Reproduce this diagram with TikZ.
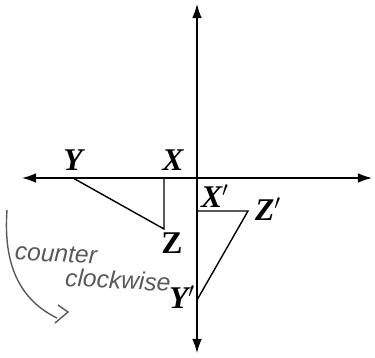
\documentclass[tikz,border=0pt]{standalone}
\usepackage{fontspec}
\setmainfont{Liberation Serif}
\newfontfamily\handfont{Liberation Sans}
\usetikzlibrary{arrows.meta}

\begin{document}
\begin{tikzpicture}[x=0.02cm,y=-0.02cm]
            \useasboundingbox (0,0) rectangle (375,358);
            \tikzset{axis/.style={thick, {Latex[length=8pt,width=5.5pt]}-{Latex[length=8pt,width=5.5pt]}},
                     side/.style={thick},
                     vlabel/.style={font=\fontsize{18}{18}\selectfont\bfseries\itshape, inner sep=0pt},
                     hand/.style={black!65, font=\handfont\fontsize{14}{14}\selectfont\itshape, rotate=-3, inner sep=1pt}}
            % Axes
            \coordinate (left) at (22,178);
            \coordinate (right) at (372,178);
            \coordinate (top) at (197,4);
            \coordinate (bottom) at (197,353);
            \draw[axis] (left) -- (right);
            \draw[axis] (top) -- (bottom);

            % Original triangle
            \coordinate (Y) at (73,178);
            \coordinate (X) at (164,178);
            \coordinate (Z) at (164,229);
            \draw[side] (Y) -- (X) -- (Z) -- cycle;
            \node[vlabel] (lY) at (73,160) {Y};
            \node[vlabel] (lX) at (173,160) {X};
            \node[vlabel, font=\fontsize{18}{18}\selectfont\bfseries] (lZ) at (172,243) {Z};

            % Rotated triangle
            \coordinate (X1) at (197,211);
            \coordinate (Z1) at (248,211);
            \coordinate (Y1) at (197,300);
            \draw[side] (X1) -- (Z1) -- (Y1) -- cycle;
            \node[vlabel] (lX1) at (215,196) {X$'$};
            \node[vlabel] (lZ1) at (268,209) {Z$'$};
            \node[vlabel] (lY1) at (182,297) {Y$'$};

            % Handwritten note
            \coordinate (c0) at (7,210);
            \coordinate (c1) at (57,318);
            \draw[black!65, thick] (c0) .. controls (3,265) and (20,300) .. (c1);
            \draw[black!65, thick] (58,305) -- (68,312) -- (55,323);
            \node[hand] (cc) at (56,254) {counter};
            \node[hand] (cw) at (118,280) {clockwise};
        \end{tikzpicture}
\end{document}
